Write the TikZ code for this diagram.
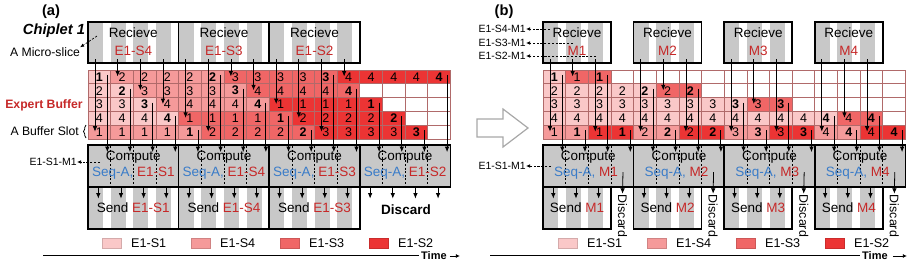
\documentclass[tikz,border=0pt]{standalone}
\usepackage{fontspec}
\setmainfont{Liberation Sans}
\usetikzlibrary{arrows.meta,decorations.pathreplacing}
\definecolor{cSa}{HTML}{FAC8C8}
\definecolor{cSd}{HTML}{F59A9A}
\definecolor{cSc}{HTML}{F06666}
\definecolor{cSb}{HTML}{EC3434}
\definecolor{gline}{HTML}{B06A6A}
\definecolor{stripe}{HTML}{C8C8C8}
\definecolor{dred}{HTML}{C62828}
\definecolor{sblue}{HTML}{3A7CC8}
\definecolor{bigarrow}{HTML}{A8A8A8}
\newcommand\fsBox{\fontsize{13.5}{16}\selectfont}
\newcommand\fsCell{\fontsize{12.5}{14}\selectfont}
\newcommand\fsLab{\fontsize{12.2}{14}\selectfont}
\newcommand\fsSmall{\fontsize{10.5}{12}\selectfont}
\newcommand\fsLeg{\fontsize{12.6}{14}\selectfont}
\newcommand\fsTitle{\fontsize{14.7}{17}\selectfont}
\def\cw{22.65}
\newcommand\gridrow[4]{%
  \foreach \v/\c/\t [count=\i] in {#4} {
    \node[cell, fill=\c, \t, anchor=north west] (#1-#3-\i) at ({#2+(\i-1)*\cw}, {70+(#3-1)*13.8}) {\v};
  }%
}
\begin{document}
\begin{tikzpicture}[x=1pt,y=-1pt,
  cell/.style={draw=gline, line width=0.7pt, minimum width=22.65pt, minimum height=13.8pt, inner sep=0pt, outer sep=0pt, font=\fsCell},
  cnum/.style={},
  cbold/.style={font=\fsCell\bfseries},
  arr/.style={-{Latex[length=5.5pt,width=4.5pt]}, line width=0.8pt},
  box/.style={draw=black, line width=1.6pt, inner sep=0pt, outer sep=0pt},
  dline/.style={dash pattern=on 2pt off 1.6pt, line width=0.7pt},
  dsh/.style={dash pattern=on 2.2pt off 1.6pt, line width=0.7pt, -{Latex[length=4pt,width=3.5pt]}},
  legbox/.style={draw=#1!85!black, fill=#1, line width=0.4pt, minimum width=19pt, minimum height=10pt, inner sep=0pt},
  txt/.style={inner sep=0pt, font=\fsBox}
]
\useasboundingbox (0,0) rectangle (917,263);

% ================= (a) =================
\node[font=\fsTitle\bfseries, inner sep=0pt] (ta) at (51,12) {(a)};
\node[font=\fsTitle\bfseries\itshape, inner sep=0pt] (chip) at (54,31) {Chiplet 1};
\node[font=\fsLab, inner sep=0pt] (micro) at (45,52) {A Micro-slice};
\node[font=\fsLab\bfseries, text=dred, inner sep=0pt] (ebuf) at (44,105) {Expert Buffer};
\node[font=\fsLab, inner sep=0pt, anchor=east] (bslot) at (79,131) {A Buffer Slot};
\node[font=\fsSmall, inner sep=0pt, anchor=east] (mla) at (77,162) {E1-S1-M1};

% receive
\foreach \k in {0,...,11} \fill[stripe] ({88+\k*\cw},22) rectangle ++(15,41);
\foreach \k/\lab in {0/E1-S4,1/E1-S3,2/E1-S2} {
  \node[box, minimum width=90.6pt, minimum height=41pt, anchor=north west] (ra\k) at ({88+\k*90.6},22) {};
  \node[txt] (ra\k t) at ({88+\k*90.6+45.3},33) {Recieve};
  \node[txt, text=dred] (ra\k l) at ({88+\k*90.6+45.3},51) {\lab};
}
% buffer
\gridrow{a}{88}{1}{1/cSa/cbold,2/cSd/cnum,2/cSd/cnum,2/cSd/cnum,2/cSd/cnum,2/cSd/cbold,3/cSc/cnum,3/cSc/cnum,3/cSc/cnum,3/cSc/cnum,3/cSc/cbold,4/cSb/cnum,4/cSb/cnum,4/cSb/cnum,4/cSb/cnum,4/cSb/cbold}
\gridrow{a}{88}{2}{2/cSa/cnum,2/cSa/cbold,3/cSd/cnum,3/cSd/cnum,3/cSd/cnum,3/cSd/cnum,3/cSd/cbold,4/cSc/cnum,4/cSc/cnum,4/cSc/cnum,4/cSc/cnum,4/cSc/cbold,{}/white/cnum,{}/white/cnum,{}/white/cnum,{}/white/cnum}
\gridrow{a}{88}{3}{3/cSa/cnum,3/cSa/cnum,3/cSa/cbold,4/cSd/cnum,4/cSd/cnum,4/cSd/cnum,4/cSd/cnum,4/cSd/cbold,1/cSb/cnum,1/cSb/cnum,1/cSb/cnum,1/cSb/cnum,1/cSb/cbold,{}/white/cnum,{}/white/cnum,{}/white/cnum}
\gridrow{a}{88}{4}{4/cSa/cnum,4/cSa/cnum,4/cSa/cnum,4/cSa/cbold,1/cSc/cnum,1/cSc/cnum,1/cSc/cnum,1/cSc/cnum,1/cSc/cbold,2/cSb/cnum,2/cSb/cnum,2/cSb/cnum,2/cSb/cnum,2/cSb/cbold,{}/white/cnum,{}/white/cnum}
\gridrow{a}{88}{5}{1/cSd/cnum,1/cSd/cnum,1/cSd/cnum,1/cSd/cnum,1/cSd/cbold,2/cSc/cnum,2/cSc/cnum,2/cSc/cnum,2/cSc/cnum,2/cSc/cbold,3/cSb/cnum,3/cSb/cnum,3/cSb/cnum,3/cSb/cnum,3/cSb/cbold,{}/white/cnum}
\draw[decorate, decoration={brace, amplitude=2.5pt}, line width=0.7pt] (86,138) -- (86,125);

% compute
\foreach \k/\lab in {0/E1-S1,1/E1-S4,2/E1-S3,3/E1-S2} {
  \node[box, fill=stripe, minimum width=90.6pt, minimum height=42pt, anchor=north west] (ca\k) at ({88+\k*90.6},145) {};
  \foreach \j in {1,2,3} \draw[dline] ({88+\k*90.6+\j*\cw},146) -- ++(0,40);
  \node[txt] (ca\k t) at ({88+\k*90.6+45.3},157) {Compute};
  \node[txt] (ca\k l) at ({88+\k*90.6+45.3},173) {\textcolor{sblue}{Seq-A,} \textcolor{dred}{\lab}};
}
% send
\foreach \k in {0,...,11} \fill[stripe] ({88+\k*\cw},187) rectangle ++(15,42);
\foreach \k/\lab in {0/E1-S1,1/E1-S4,2/E1-S3} {
  \node[box, minimum width=90.6pt, minimum height=42pt, anchor=north west] (sa\k) at ({88+\k*90.6},187) {};
  \node[txt] (sa\k t) at ({88+\k*90.6+45.3},208) {Send \textcolor{dred}{\lab}};
}
\node[font=\fsBox\bfseries, inner sep=0pt] (disa) at (406,210) {Discard};

% arrows (a)
\foreach \c/\r in {1/5,2/1,3/2,4/3,5/4,6/5,7/1,8/2,9/3,10/4,11/5,12/1}
  \draw[arr] ([xshift=7pt,yshift=11pt]a-1-\c.north west) -- ([xshift=7pt,yshift=-6.5pt]a-\r-\c.north west);
\foreach \c/\r in {1/1,2/2,3/3,4/4,5/5,6/1,7/2,8/3,9/4,10/5,11/1,12/2,13/3,14/4,15/5,16/1}
  \draw[arr] ([xshift=8pt,yshift=2pt]a-\r-\c.center) -- ([xshift=8pt,yshift=-20pt]a-5-\c.center);
\foreach \c in {1,...,16}
  \draw[arr] ([xshift=-1pt,yshift=-55pt]a-5-\c.center) -- ++(0,11.5);
\draw[dsh] (97,36) -- (micro.north east);
\draw[dsh] (100,162) -- (mla.east);

% legend (a)
\foreach \k/\cc/\lab in {0/cSa/E1-S1,1/cSd/E1-S4,2/cSc/E1-S3,3/cSb/E1-S2} {
  \node[legbox=\cc] (lga\k) at ({111.5+\k*89},243) {};
  \node[font=\fsLeg, inner sep=0pt, anchor=west] (lgat\k) at ({131+\k*89},243.5) {\lab};
}
\draw[line width=1pt] (43,255) -- (419,255);
\node[font=\fontsize{11}{13}\selectfont\bfseries, inner sep=0pt, anchor=west] (timea) at (421,256) {Time};
\draw[-{Latex[length=4pt,width=4pt]}, line width=0.9pt] (timea.east) ++(3,0) -- ++(10,0);

% big arrow
\draw[bigarrow, fill=white, line width=1.2pt] (477,119) -- (503,119) -- (503,109) -- (528,128) -- (503,147) -- (503,137) -- (477,137) -- cycle;

% ================= (b) =================
\node[font=\fsTitle\bfseries, inner sep=0pt] (tb) at (504,12) {(b)};
\node[font=\fsSmall, inner sep=0pt, anchor=east] (mb4) at (526,29) {E1-S4-M1};
\node[font=\fsSmall, inner sep=0pt, anchor=east] (mb3) at (526,43) {E1-S3-M1};
\node[font=\fsSmall, inner sep=0pt, anchor=east] (mb2) at (526,56) {E1-S2-M1};
\node[font=\fsSmall, inner sep=0pt, anchor=east] (mb1) at (526,166) {E1-S1-M1};

% receive
\foreach \k in {0,...,3} \foreach \j in {0,1,2} \fill[stripe] ({543+(4*\k+\j)*\cw},22) rectangle ++(15,41);
\foreach \k/\lab in {0/M1,1/M2,2/M3,3/M4} {
  \node[box, minimum width=67.95pt, minimum height=41pt, anchor=north west] (rb\k) at ({543+\k*90.6},22) {};
  \node[txt] (rb\k t) at ({543+\k*90.6+34},33) {Recieve};
  \node[txt, text=dred] (rb\k l) at ({543+\k*90.6+34},51) {\lab};
}
% buffer
\gridrow{b}{543}{1}{1/cSa/cbold,1/cSc/cnum,1/cSc/cbold,{}/white/cnum,{}/white/cnum,{}/white/cnum,{}/white/cnum,{}/white/cnum,{}/white/cnum,{}/white/cnum,{}/white/cnum,{}/white/cnum,{}/white/cnum,{}/white/cnum,{}/white/cnum,{}/white/cnum}
\gridrow{b}{543}{2}{2/cSa/cnum,2/cSa/cnum,2/cSa/cnum,2/cSa/cnum,2/cSa/cbold,2/cSc/cnum,2/cSc/cbold,{}/white/cnum,{}/white/cnum,{}/white/cnum,{}/white/cnum,{}/white/cnum,{}/white/cnum,{}/white/cnum,{}/white/cnum,{}/white/cnum}
\gridrow{b}{543}{3}{3/cSa/cnum,3/cSa/cnum,3/cSa/cnum,3/cSa/cnum,3/cSa/cnum,3/cSa/cnum,3/cSa/cnum,3/cSa/cnum,3/cSa/cbold,3/cSc/cnum,3/cSc/cbold,{}/white/cnum,{}/white/cnum,{}/white/cnum,{}/white/cnum,{}/white/cnum}
\gridrow{b}{543}{4}{4/cSa/cnum,4/cSa/cnum,4/cSa/cnum,4/cSa/cnum,4/cSa/cnum,4/cSa/cnum,4/cSa/cnum,4/cSa/cnum,4/cSa/cnum,4/cSa/cnum,4/cSa/cnum,4/cSa/cnum,4/cSa/cbold,4/cSc/cnum,4/cSc/cbold,{}/white/cnum}
\gridrow{b}{543}{5}{1/cSd/cnum,1/cSd/cbold,1/cSb/cnum,1/cSb/cbold,2/cSd/cnum,2/cSd/cbold,2/cSb/cnum,2/cSb/cbold,3/cSd/cnum,3/cSd/cbold,3/cSb/cnum,3/cSb/cbold,4/cSd/cnum,4/cSd/cbold,4/cSb/cnum,4/cSb/cbold}

% compute
\foreach \k/\lab in {0/M1,1/M2,2/M3,3/M4} {
  \node[box, fill=stripe, minimum width=90.6pt, minimum height=42pt, anchor=north west] (cb\k) at ({543+\k*90.6},145) {};
  \foreach \j in {1,2,3} \draw[dline] ({543+\k*90.6+\j*\cw},146) -- ++(0,40);
  \node[txt] (cb\k t) at ({543+\k*90.6+45.3},157) {Compute};
  \node[txt] (cb\k l) at ({543+\k*90.6+43},173) {\textcolor{sblue}{Seq-A,} \textcolor{dred}{\lab}};
}
% send
\foreach \k in {0,...,3} \foreach \j in {0,1,2} \fill[stripe] ({543+(4*\k+\j)*\cw},187) rectangle ++(15,42);
\foreach \k/\lab in {0/M1,1/M2,2/M3,3/M4} {
  \node[box, minimum width=67.95pt, minimum height=42pt, anchor=north west] (sb\k) at ({543+\k*90.6},187) {};
  \node[txt] (sb\k t) at ({543+\k*90.6+34},208) {Send \textcolor{dred}{\lab}};
  \node[font=\fontsize{12.4}{14}\selectfont, inner sep=0pt, rotate=-90] (db\k) at ({543+\k*90.6+79.5},216) {Discard};
}

% arrows (b)
\foreach \c/\r in {1/5,2/1,3/5,5/5,6/2,7/5,9/5,10/3,11/5,13/5,14/4,15/5}
  \draw[arr] ([xshift=7pt,yshift=11pt]b-1-\c.north west) -- ([xshift=7pt,yshift=-6.5pt]b-\r-\c.north west);
\foreach \c/\r in {1/1,2/5,3/1,4/5,5/2,6/5,7/2,8/5,9/3,10/5,11/3,12/5,13/4,14/5,15/4,16/5}
  \draw[arr] ([xshift=8pt,yshift=2pt]b-\r-\c.center) -- ([xshift=8pt,yshift=-20pt]b-5-\c.center);
\foreach \c in {1,2,3,5,6,7,9,10,11,13,14,15}
  \draw[arr] ([xshift=-1pt,yshift=-55pt]b-5-\c.center) -- ++(0,11.5);
\foreach \c/\k in {4/0,8/1,12/2,16/3}
  \draw[arr] ([xshift=0.7pt,yshift=-40pt]b-5-\c.center) -- ([yshift=1pt]db\k.west);
\draw[dsh] (550,29) -- (mb4.east);
\draw[dsh] (573,43) -- (mb3.east);
\draw[dsh] (596,56) -- (mb2.east);
\draw[dsh] (551,166) -- (mb1.east);

% legend (b)
\foreach \k/\cc/\lab in {0/cSa/E1-S1,1/cSd/E1-S4,2/cSc/E1-S3,3/cSb/E1-S2} {
  \node[legbox=\cc] (lgb\k) at ({567.5+\k*89},243) {};
  \node[font=\fsLeg, inner sep=0pt, anchor=west] (lgbt\k) at ({587+\k*89},243.5) {\lab};
}
\draw[line width=1pt] (490,255) -- (860,255);
\node[font=\fontsize{11}{13}\selectfont\bfseries, inner sep=0pt, anchor=west] (timeb) at (862,256) {Time};
\draw[-{Latex[length=4pt,width=4pt]}, line width=0.9pt] (timeb.east) ++(5,0) -- ++(14,0);
\end{tikzpicture}
\end{document}
